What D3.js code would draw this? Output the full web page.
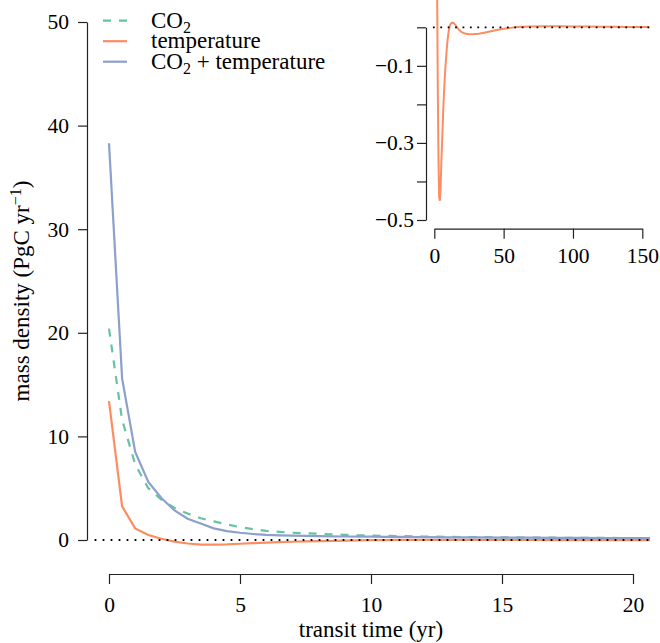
<!DOCTYPE html>
<html><head><meta charset="utf-8">
<script src="https://cdn.jsdelivr.net/npm/d3@7"></script>
<style>
body{margin:0;background:#fff}
svg{display:block}
text{font-family:"Liberation Serif","Times New Roman",serif;fill:#000}
</style>
</head><body>
<svg id="chart" width="660" height="643"></svg>
<script>
// ---- data ----
const time = [0,0.5,1,1.5,2,2.5,3,3.5,4,4.5,5,5.5,6,6.5,7,7.5,8,8.5,9,9.5,10,10.5,11,12,13,14,15,16,17,18,19,20,20.65];
const co2 = [20.4,11.6,7.3,5.0,3.9,3.1,2.55,2.1,1.8,1.5,1.25,1.05,0.88,0.78,0.7,0.64,0.6,0.55,0.5,0.46,0.42,0.4,0.38,0.34,0.3,0.28,0.26,0.24,0.22,0.21,0.2,0.19,0.19];
const temperature = [13.4,3.25,1.12,0.48,0.12,-0.15,-0.34,-0.44,-0.45,-0.42,-0.36,-0.31,-0.26,-0.21,-0.17,-0.135,-0.105,-0.08,-0.055,-0.035,-0.02,-0.007,0.003,0.01,0.012,0.011,0.007,0.002,-0.003,-0.007,-0.01,-0.013,-0.014];
const combined = [38.3,15.6,8.5,5.6,4.05,2.85,2.05,1.6,1.12,0.86,0.7,0.58,0.5,0.45,0.42,0.39,0.37,0.355,0.34,0.33,0.32,0.31,0.3,0.28,0.26,0.25,0.23,0.22,0.21,0.2,0.19,0.18,0.18];
const tailTime = [22,25,28,32,36,40,45,50,55,60,70,80,90,100,110,120,130,140,150,155];
const tailTemperature = [-0.016,-0.018,-0.018,-0.017,-0.014,-0.011,-0.007,-0.004,-0.0015,0.0005,0.002,0.0025,0.0025,0.002,0.0018,0.0015,0.0012,0.001,0.0008,0.0008];
const seriesNames = ["CO2","temperature","CO2 + temperature"];
const xTicks = [0,5,10,15,20];
const yTicks = [0,10,20,30,40,50];
const insetXTicks = [0,50,100,150];
const insetYTicks = [0,-0.1,-0.2,-0.3,-0.4,-0.5];
const insetYLabels = [-0.1,-0.3,-0.5];
const zeroMainX = [-0.55,20.65];
const zeroInsetX = [-1,155];

// ---- styles ----
const colors = {"CO2":"#66c2a5","temperature":"#fc8d62","CO2 + temperature":"#8da0cb"};
const dashes = {"CO2":"8,8","temperature":null,"CO2 + temperature":null};
const FS = 23, TFS = 21.5;

const svg = d3.select("#chart");

// ---- main plot ----
const x = d3.scaleLinear().domain([0,20]).range([109,633]);
const y = d3.scaleLinear().domain([0,50]).range([540,22]);

const seriesData = {
  "CO2": time.map((t,i)=>[t,co2[i]]),
  "temperature": time.map((t,i)=>[t,temperature[i]]),
  "CO2 + temperature": time.map((t,i)=>[t,combined[i]])
};
const line = d3.line().x(d=>x(d[0])).y(d=>y(d[1]));
seriesNames.forEach(n=>{
  svg.append("path").datum(seriesData[n])
    .attr("d",line).attr("fill","none")
    .attr("stroke",colors[n]).attr("stroke-width",2.2)
    .attr("stroke-dasharray",dashes[n]);
});
svg.append("line")
  .attr("x1",x(zeroMainX[0])).attr("x2",x(zeroMainX[1]))
  .attr("y1",y(0)).attr("y2",y(0))
  .attr("stroke","#000").attr("stroke-width",1.8).attr("stroke-dasharray","1.8,6.2");

function styleAxis(g){
  g.select(".domain").attr("stroke","#222").attr("stroke-width",1.2);
  g.selectAll(".tick line").attr("stroke","#222").attr("stroke-width",1.2);
  g.selectAll(".tick text").attr("font-size",TFS).attr("font-family","Liberation Serif, serif").attr("fill","#000");
}

svg.append("g").attr("transform","translate(87,0)")
  .call(d3.axisLeft(y).tickValues(yTicks).tickSize(9).tickSizeOuter(0).tickPadding(9).tickFormat(d3.format("d")))
  .call(styleAxis);
svg.append("g").attr("transform","translate(0,574)")
  .call(d3.axisBottom(x).tickValues(xTicks).tickSize(10).tickSizeOuter(0).tickPadding(13).tickFormat(d3.format("d")))
  .call(styleAxis);

svg.append("text").attr("x",(x(0)+x(20))/2).attr("y",637)
  .attr("text-anchor","middle").attr("font-size",FS).text("transit time (yr)");

const yt = svg.append("text").attr("transform","translate(29,291) rotate(-90)")
  .attr("text-anchor","middle").attr("font-size",FS);
yt.append("tspan").text("mass density (PgC yr");
yt.append("tspan").attr("dy",-8).attr("font-size",16).text("−1");
yt.append("tspan").attr("dy",8).text(")");

// ---- legend ----
const legend = svg.append("g");
seriesNames.forEach((n,i)=>{
  const ly = 20.7 + i*20.5;
  legend.append("line").attr("x1",103).attr("x2",127).attr("y1",ly).attr("y2",ly)
    .attr("stroke",colors[n]).attr("stroke-width",2.2).attr("stroke-dasharray",dashes[n]);
  const t = legend.append("text").attr("x",151).attr("y",ly+7).attr("font-size",FS);
  if(n.startsWith("CO2")){
    t.append("tspan").text("CO");
    t.append("tspan").attr("dy",5).attr("font-size",16).text("2");
    if(n.length>3){
      t.append("tspan").attr("dy",-5).text(n.slice(3));
    }
  } else t.text(n);
});

// ---- inset ----
const ix = d3.scaleLinear().domain([0,150]).range([434.3,642.3]);
const iy = d3.scaleLinear().domain([-0.5,0]).range([220,27.3]);
svg.append("clipPath").attr("id","insetClip").append("rect")
  .attr("x",426).attr("y",0).attr("width",234).attr("height",228);
const insetData = seriesData["temperature"].concat(tailTime.map((t,i)=>[t,tailTemperature[i]]));
const iline = d3.line().x(d=>ix(d[0])).y(d=>iy(d[1]));
svg.append("path").datum(insetData).attr("clip-path","url(#insetClip)")
  .attr("d",iline).attr("fill","none").attr("stroke",colors["temperature"]).attr("stroke-width",2);
svg.append("line")
  .attr("x1",ix(zeroInsetX[0])).attr("x2",ix(zeroInsetX[1]))
  .attr("y1",iy(0)).attr("y2",iy(0))
  .attr("stroke","#000").attr("stroke-width",1.8).attr("stroke-dasharray","1.8,5.6");

const fmt = d3.format(".1f");
svg.append("g").attr("transform","translate(426,0)")
  .call(d3.axisLeft(iy).tickValues(insetYTicks).tickSize(9).tickSizeOuter(0).tickPadding(3)
    .tickFormat(d=>insetYLabels.some(v=>Math.abs(v-d)<1e-9)?fmt(d):""))
  .call(styleAxis);
svg.append("g").attr("transform","translate(0,228.7)")
  .call(d3.axisBottom(ix).tickValues(insetXTicks).tickSize(10).tickSizeOuter(0).tickPadding(8.7).tickFormat(d3.format("d")))
  .call(styleAxis);
</script>
</body></html>
